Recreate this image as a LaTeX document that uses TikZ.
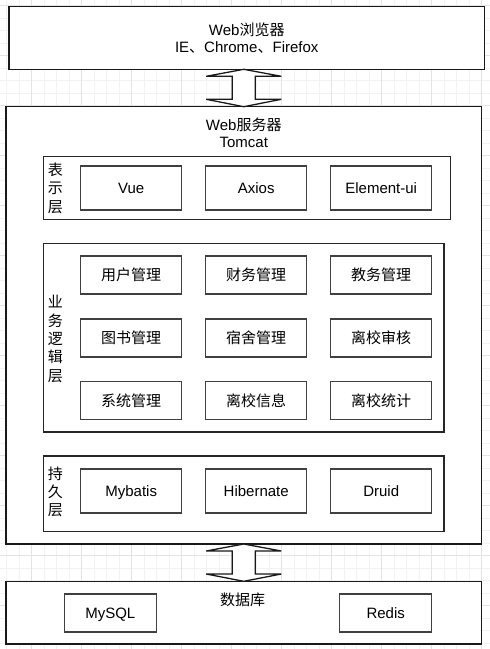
\documentclass[tikz,border=0pt]{standalone}
\usepackage{fontspec}
\setmainfont{Liberation Sans}
\newfontfamily\cjk{Noto Sans CJK SC}
\usetikzlibrary{calc}
\tikzset{minorgrid/.style = {draw=black!5, line width=0.8pt}}
\tikzset{majorgrid/.style = {draw=black!11, line width=0.8pt}}
\tikzset{layer/.style = {draw=black!90, fill=white, line width=1.3pt, inner sep=0, outer sep=0}}
\tikzset{group/.style = {draw=black!85, line width=1.3pt, inner sep=0, outer sep=0}}
\tikzset{item/.style = {draw=black!75, fill=white, line width=1.3pt, inner sep=0,
                        text height=11.5, text depth=0,
                        minimum width=101, minimum height=44}}
\tikzset{side/.style = {align=center, inner sep=0, font=\fontsize{15}{18.3}\selectfont\cjk}}
\tikzset{blockarrow/.style = {draw=black!90, fill=white, line width=1.3pt, line join=miter}}

\begin{document}
\begin{tikzpicture}[x=1pt, y=-1pt, font=\fontsize{15}{17}\selectfont]
    \useasboundingbox (0, 0) rectangle (490, 649);

    % background grid
    \foreach \gx in {6.7, 19.2, ..., 490} \draw [minorgrid] (\gx, 0) -- (\gx, 649);
    \foreach \gy in {5.7, 18.2, ..., 649} \draw [minorgrid] (0, \gy) -- (490, \gy);
    \foreach \gx in {31.7, 81.7, ..., 490} \draw [majorgrid] (\gx, 0) -- (\gx, 649);
    \foreach \gy in {5.7, 55.7, ..., 649} \draw [majorgrid] (0, \gy) -- (490, \gy);

    % browser
    \node [layer, minimum width=475.5, minimum height=63, align=center] (browser) at (246.75, 37.8)
        {Web{\cjk 浏览器}\\IE{\cjk 、}Chrome{\cjk 、}Firefox};

    % web server
    \node [layer, minimum width=475.5, minimum height=437.3] (server) at (243.75, 325.35) {};
    \node [align=center, inner sep=0] (servertitle) at (243.75, 132.5) {Web{\cjk 服务器}\\Tomcat};

    \draw [blockarrow] (browser.south -| server.north) -- ++(37.5, 7) -- ++(-26, 0)
        -- ($(server.north) + (11.5, -7.4)$) -- ++(26, 0) -- (server.north)
        -- ++(-37.5, -7.4) -- ++(26, 0) -- ($(browser.south -| server.north) + (-11.5, 7)$)
        -- ++(-26, 0) -- cycle;

    % presentation layer
    \node [group, minimum width=407, minimum height=63] (view) at (246.8, 187.7) {};
    \node [side] (viewlabel) at (55.5, 188.3) {表\\示\\层};
    \node [item] (vue) at (131.2, 188) {Vue};
    \node [item] (axios) at (256.2, 188) {Axios};
    \node [item] (elementui) at (381.2, 188) {Element-ui};

    % business logic layer
    \node [group, minimum width=400.7, minimum height=188.3] (logic) at (243.65, 337.85) {};
    \node [side] (logiclabel) at (55.5, 339) {业\\务\\逻\\辑\\层};
    \node [item, minimum height=38] (user) at (131.2, 275) {\cjk 用户管理};
    \node [item, minimum height=38] (finance) at (256.2, 275) {\cjk 财务管理};
    \node [item, minimum height=38] (academic) at (381.2, 275) {\cjk 教务管理};
    \node [item, minimum height=38] (library) at (131.2, 338) {\cjk 图书管理};
    \node [item, minimum height=38] (dorm) at (256.2, 338) {\cjk 宿舍管理};
    \node [item, minimum height=38] (leaveaudit) at (381.2, 338) {\cjk 离校审核};
    \node [item, minimum height=38] (system) at (131.2, 400.3) {\cjk 系统管理};
    \node [item, minimum height=38] (leaveinfo) at (256.2, 400.3) {\cjk 离校信息};
    \node [item, minimum height=38] (leavestat) at (381.2, 400.3) {\cjk 离校统计};

    % persistence layer
    \node [group, minimum width=400.7, minimum height=75.7] (persist) at (243.65, 493.85) {};
    \node [side] (persistlabel) at (55.5, 491.7) {持\\久\\层};
    \node [item] (mybatis) at (131.2, 491) {Mybatis};
    \node [item] (hibernate) at (256.2, 491) {Hibernate};
    \node [item] (druid) at (381.2, 491) {Druid};

    % database
    \node [layer, minimum width=475.5, minimum height=62.7] (db) at (243.75, 612.65) {};
    \node [inner sep=0] (dbtitle) at (242.7, 600) {\cjk 数据库};
    \node [item, minimum width=92, minimum height=38] (mysql) at (110.3, 613) {MySQL};
    \node [item, minimum width=92, minimum height=38] (redis) at (385.7, 613) {Redis};

    \draw [blockarrow] (server.south) -- ++(37.5, 7) -- ++(-26, 0)
        -- ($(db.north) + (11.5, -7.3)$) -- ++(26, 0) -- (db.north)
        -- ++(-37.5, -7.3) -- ++(26, 0) -- ($(server.south) + (-11.5, 7)$)
        -- ++(-26, 0) -- cycle;
\end{tikzpicture}
\end{document}
